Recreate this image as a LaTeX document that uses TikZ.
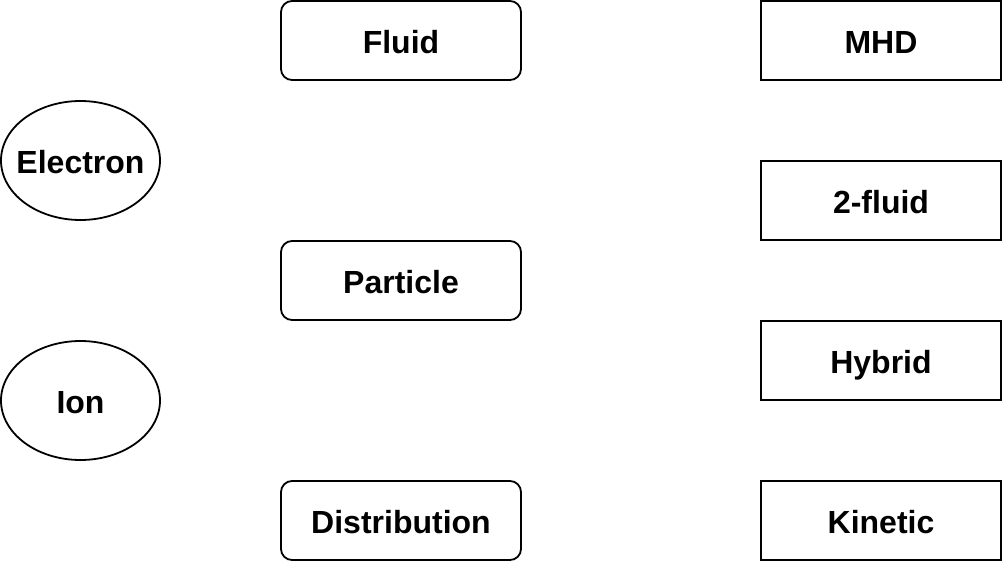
\documentclass[tikz,border=0pt]{standalone}
\usepackage{fontspec}
\setmainfont{Liberation Sans}
\usetikzlibrary{shapes.geometric}
\begin{document}
\begin{tikzpicture}[x=1pt,y=-1pt,
  lbl/.style={font=\fontsize{32}{36}\selectfont\bfseries,inner sep=0pt,text height=22.9pt,text depth=0pt,yshift=-2pt},
  shp/.style={draw,line width=1.8pt,inner sep=0pt},
  rbox/.style={shp,rounded corners=11pt,minimum width=240pt,minimum height=79pt},
  sbox/.style={shp,minimum width=240pt,minimum height=79pt},
  ell/.style={shp,ellipse,minimum width=159pt,minimum height=119pt}]
\useasboundingbox (0,0) rectangle (1002,562);
\node[ell,label={[lbl]center:Electron}] (electron) at (80.5,160.5) {};
\node[ell,label={[lbl]center:Ion}] (ion) at (80.5,400.5) {};
\node[rbox,label={[lbl]center:Fluid}] (fluid) at (401,40.5) {};
\node[rbox,label={[lbl]center:Particle}] (particle) at (401,280.5) {};
\node[rbox,label={[lbl]center:Distribution}] (distribution) at (401,520.5) {};
\node[sbox,label={[lbl]center:MHD}] (mhd) at (881,40.5) {};
\node[sbox,label={[lbl]center:2-fluid}] (twofluid) at (881,200.5) {};
\node[sbox,label={[lbl]center:Hybrid}] (hybrid) at (881,360.5) {};
\node[sbox,label={[lbl]center:Kinetic}] (kinetic) at (881,520.5) {};
\end{tikzpicture}
\end{document}
